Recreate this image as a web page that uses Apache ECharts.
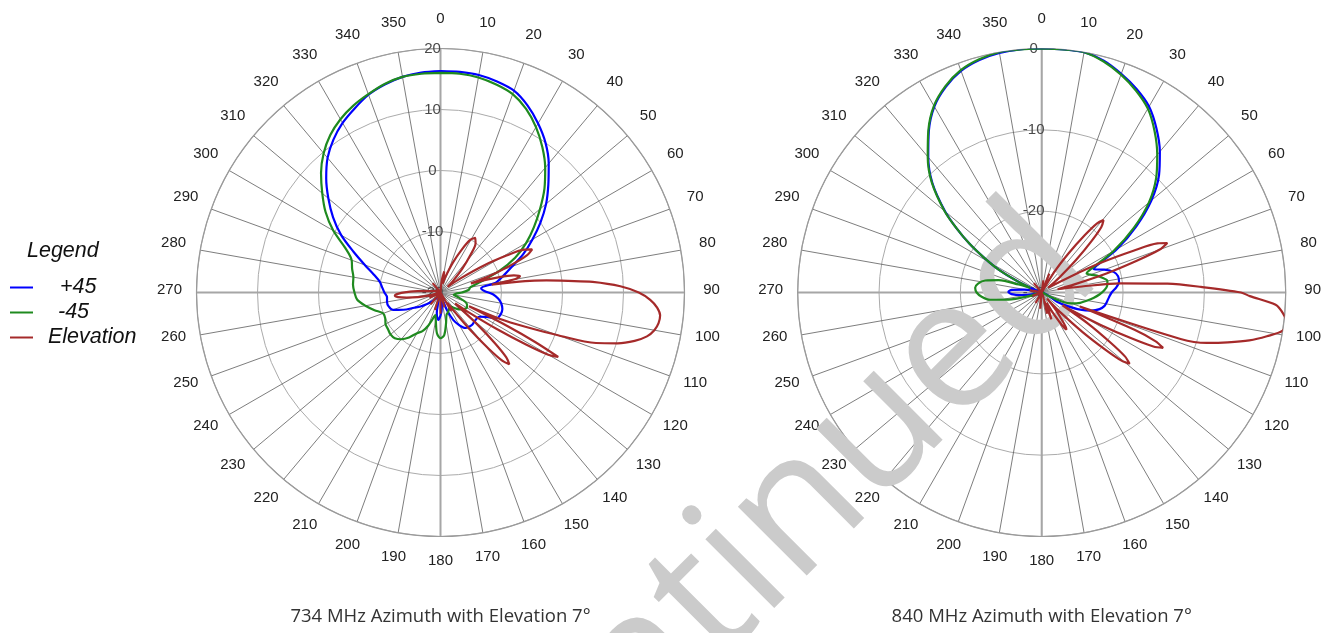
<!DOCTYPE html>
<html><head><meta charset="utf-8">
<script src="https://cdn.jsdelivr.net/npm/echarts@6/dist/echarts.min.js"></script>
<style>html,body{margin:0;padding:0;background:#fff}#c{width:1339px;height:633px}</style>
</head><body><div id="c"></div>
<script>
// ---- text ----
const leftTitle = '734 MHz Azimuth with Elevation 7°';
const rightTitle = '840 MHz Azimuth with Elevation 7°';
const legendTitle = 'Legend';
const seriesNames = ['+45', '-45', 'Elevation'];
const seriesColors = ['#0000ff', '#1f8a1f', '#a52a2a'];
const watermarkText = 'Discontinued';

// ---- scales ----
const leftRadius = { min: -20, max: 20, step: 10 };
const rightRadius = { min: -30, max: 0, step: 10 };
const angleScale = { min: 0, max: 360, step: 10 };

// ---- 734 MHz: [angle deg, dB] ----
const az734Plus45 = [
  [0,16.3],[5,16.3],[10,16.2],[15,15.8],[20,15.2],[25,13.8],[30,12.0],[35,10.0],[40,7.6],[45,5.0],
  [50,2.6],[55,0.0],[60,-2.6],[65,-5.0],[70,-7.5],[75,-9.3],[80,-10.8],[84,-13.3],[88,-12.8],[92,-11.4],
  [96,-10.5],[100,-9.9],[105,-9.5],[110,-9.5],[115,-9.9],[118,-11.5],[122,-12.5],[130,-12.7],[135,-12.6],[140,-12.7],
  [145,-12.9],[150,-13.8],[155,-15.0],[160,-17.0],[165,-18.8],[170,-19.2],[175,-17.5],[180,-16.2],[185,-15.5],[190,-16.5],
  [195,-18.8],[200,-19.5],[210,-19.3],[220,-18.5],[225,-17.8],[230,-17.0],[235,-16.0],[240,-15.0],[245,-13.3],[250,-11.7],
  [255,-11.2],[260,-11.1],[265,-11.2],[270,-10.8],[275,-10.4],[280,-9.9],[285,-8.7],[290,-6.8],[295,-4.3],[300,-1.2],
  [305,1.5],[310,4.0],[315,6.5],[320,8.8],[325,10.6],[330,12.1],[335,13.3],[340,14.5],[345,15.3],[350,15.9],[355,16.2]
];
const az734Minus45 = [
  [0,16.0],[5,16.0],[10,15.8],[15,15.3],[20,14.6],[25,13.2],[30,11.3],[35,9.1],[40,6.7],[45,4.1],
  [50,1.3],[55,-1.3],[60,-3.8],[65,-6.5],[70,-9.8],[75,-13.2],[80,-15.0],[85,-15.4],[90,-16.5],[95,-17.5],
  [100,-17.8],[105,-17.0],[110,-15.8],[115,-15.2],[120,-15.0],[125,-15.3],[130,-15.7],[135,-16.2],[140,-16.8],[145,-17.2],
  [150,-17.2],[155,-16.8],[160,-16.5],[165,-16.2],[170,-14.8],[175,-13.0],[180,-12.5],[185,-13.3],[190,-15.5],[193,-16.2],
  [197,-15.3],[200,-14.3],[205,-13.0],[210,-12.3],[215,-11.0],[220,-10.0],[225,-9.4],[230,-9.3],[235,-9.5],[240,-9.6],
  [245,-10.0],[250,-10.0],[255,-8.8],[260,-7.5],[265,-6.3],[270,-5.9],[275,-5.6],[280,-5.5],[285,-5.0],[290,-4.5],
  [295,-2.8],[300,0.3],[305,3.0],[310,5.3],[315,7.7],[320,9.8],[325,11.5],[330,12.8],[335,13.8],[340,14.6],
  [345,15.4],[350,15.9],[355,16.0]
];
const az734Elevation = [
  [0,-20],[6,-18],[10,-16.5],[14,-18.5],[17.5,-17.3],[22.5,-14.7],[26.5,-12.05],[29.5,-10.1],[32.5,-9.4],[35.5,-10.1],
  [38.5,-12.05],[42.5,-14.7],[47.5,-17.3],[51,-18.5],[54.8,-15.9],[58,-11.7],[60.8,-7.6],[62.8,-4.6],[64.8,-3.4],[66.8,-4.6],
  [68.8,-7.6],[71.6,-11.7],[73.3,-14.8],[75.4,-10.0],[76.9,-7.65],[78.4,-6.7],[79.9,-7.65],[81.2,-11.5],[82.3,-6],[83.5,-2.5],
  [84.8,1.0],[86,5.0],[88,9.5],[90,12.5],[92,14.4],[94,15.6],[96,16.2],[98,16.1],[100,15.6],[102,14.6],
  [104,12.8],[106,10.2],[108,6.8],[110,0.5],[112,-5],[114,-9.3],[115.9,-14.8],[116.7,-7.5],[117.6,-2.5],[118.7,2.0],
  [120.0,0.4],[121.3,-3.5],[123.0,-9.0],[125.2,-14.5],[127,-17],[128.7,-15.9],[131,-11.85],[133,-7.8],[134.6,-4.85],[136.2,-3.7],
  [137.8,-4.85],[139.4,-7.8],[141.4,-11.85],[143.7,-15.9],[147,-18],[150,-16.5],[154,-20],[165,-17.5],[172,-20],[180,-16.5],
  [188,-20],[198,-17],[205,-20],[220,-17.5],[230,-20],[245,-18],[252,-20],[255.5,-18.1],[258.5,-16.25],[261.5,-14.4],
  [263.8,-13.0],[266,-12.5],[268.2,-13.0],[270.5,-14.4],[273.5,-16.25],[276.5,-18.1],[285,-19],[300,-20],[320,-18],[340,-20]
];

// ---- 840 MHz: [angle deg, dB] ----
const az840Plus45 = [
  [0,0],[5,0],[10,0],[15,-0.5],[20,-1.4],[25,-2.4],[30,-3.6],[35,-5.4],[40,-7.4],[45,-9.6],
  [50,-12.4],[55,-15.8],[60,-19.3],[64,-22.5],[66,-23.0],[70,-21.8],[74,-20.8],[78,-20.4],[82,-20.4],[86,-20.8],
  [90,-21.4],[94,-21.7],[98,-21.9],[102,-22.1],[106,-22.6],[110,-23.5],[114,-24.8],[118,-26.5],[121,-27.8],[125,-30],
  [255,-30],[259,-29],[263,-27.5],[267,-26.3],[271,-25.9],[275,-26.3],[279,-27.8],[283,-29.5],[287,-30],[291,-29],
  [295,-26.6],[298,-24],[301,-21.8],[304,-19.3],[307,-16.9],[310,-14.5],[315,-11.0],[320,-8.3],[325,-5.8],[330,-3.6],
  [335,-2.1],[340,-1.0],[345,-0.4],[350,-0.1],[355,0]
];
const az840Minus45 = [
  [0,0],[5,0],[10,0],[15,-0.6],[20,-1.5],[25,-2.6],[30,-3.9],[35,-5.8],[40,-7.9],[45,-10.1],
  [50,-12.8],[55,-16.2],[60,-19.8],[64,-23.0],[67,-24.0],[70,-23.6],[73,-22.9],[76,-22.4],[80,-21.8],[84,-21.9],
  [88,-22.3],[92,-22.9],[96,-23.6],[100,-24.3],[105,-25.1],[110,-26.1],[114,-27.2],[118,-29],[122,-30],[250,-30],
  [254,-28.5],[258,-25.8],[262,-23.6],[266,-22.6],[270,-22.0],[274,-21.8],[278,-22.1],[282,-22.9],[286,-24.5],[289,-27],
  [292,-28.5],[295,-26.7],[298,-24],[301,-21.8],[304,-19.3],[307,-16.9],[310,-14.4],[315,-10.9],[320,-8.2],[325,-5.7],
  [330,-3.5],[335,-2.0],[340,-0.9],[345,-0.3],[350,0],[355,0]
];
const az840Elevation = [
  [0,-30],[8,-28.5],[15,-30],[22,-27.5],[28,-30],[31.5,-27.1],[34.5,-24.15],[36.9,-21.2],[38.7,-19.1],[40.5,-18.3],
  [42.3,-19.1],[44.1,-21.2],[46.5,-24.15],[49.5,-27.1],[53,-29],[61,-25.85],[63.4,-21.7],[65.5,-17.6],[67,-14.55],[68.5,-13.4],
  [70,-14.55],[71.5,-17.6],[73.6,-21.7],[76,-25.85],[78.5,-28],[81.5,-25],[83.3,-20.3],[86,-14.5],[88,-10.4],[90,-5.5],
  [91,-4.4],[93,-1.2],[95,-0.2],[97,0.3],[99,0],[101,-1.8],[103,-3.8],[105,-6.3],[107,-8.8],[108.5,-12],
  [110.2,-25],[111.9,-17.7],[113.2,-14.75],[114.5,-13.6],[115.8,-14.75],[117.1,-17.7],[118.8,-21.8],[121,-25.9],[121.5,-27],[123.9,-23.05],
  [126,-19.6],[127.5,-17.1],[129,-16.1],[130.5,-17.1],[132,-19.6],[134.1,-23.05],[136.5,-26.5],[139,-29],[141,-27.25],[143.5,-25.9],
  [145,-24.9],[146.3,-24.5],[147.6,-24.9],[149,-25.9],[151.5,-27.25],[155,-28.6],[160,-26.5],[163,-29],[166,-27.3],[170,-30],
  [185,-28],[195,-30],[210,-28.5],[225,-30],[250,-28.8],[265,-30],[280,-28.5],[295,-30],[320,-28.5],[340,-30]
];

// ---- layout (styling, not data) ----
const CX = [440.5, 1041.7], CY = 292.5, R = 244;
const LABEL_SHIFT = 2.5;      // tick labels sit slightly above the ring centre
const TICK_FONT = 'Liberation Sans';

function closed(pairs) {
  const d = pairs.map(p => [p[1], p[0]]);
  d.push([pairs[0][1], 360]);
  return d;
}
function angleAxisGrid(pi) {
  return {
    polarIndex: pi, type: 'value', min: angleScale.min, max: angleScale.max, interval: angleScale.step,
    startAngle: 90, clockwise: true,
    axisLine: { show: true, lineStyle: { color: '#9a9a9a', width: 1.2 } },
    axisTick: { show: false }, axisLabel: { show: false },
    splitLine: { show: true, lineStyle: { color: '#5c5c5c', width: 0.8 } }
  };
}
function angleAxisCross(pi) {
  return {
    polarIndex: pi, type: 'value', min: angleScale.min, max: angleScale.max, interval: 90, startAngle: 90, clockwise: true,
    axisLine: { show: false }, axisTick: { show: false }, axisLabel: { show: false },
    splitLine: { show: true, lineStyle: { color: '#a6a6a6', width: 2 } }
  };
}
function angleAxisLabels(pi) {
  return {
    polarIndex: pi, type: 'value', min: angleScale.min, max: angleScale.max, interval: angleScale.step,
    startAngle: 90, clockwise: true,
    axisLine: { show: false }, axisTick: { show: false }, splitLine: { show: false },
    axisLabel: { margin: 26.5,
      formatter: v => (v >= 360 ? '' : '{a|' + v + '}'),
      rich: { a: { width: 1, height: 1, lineHeight: 1, align: 'center', verticalAlign: 'middle',
        fontSize: 15, color: '#222', fontFamily: TICK_FONT } } }
  };
}
function radiusAxisMain(pi, sc) {
  return {
    polarIndex: pi, type: 'value', min: sc.min, max: sc.max, interval: sc.step,
    axisLine: { show: false }, axisTick: { show: false },
    axisLabel: { margin: 8, align: 'center', verticalAlign: 'middle', fontSize: 15, color: '#4a4a4a',
      fontFamily: TICK_FONT, showMinLabel: true, showMaxLabel: true },
    splitLine: { show: true, lineStyle: { color: '#ababab', width: 1 } }
  };
}
function radiusAxisHidden(pi, sc) {
  return { polarIndex: pi, type: 'value', min: sc.min, max: sc.max, show: false,
    axisLine: { show: false }, axisLabel: { show: false }, splitLine: { show: false }, axisTick: { show: false } };
}
function lineSeries(name, color, pi, pairs, z) {
  return { type: 'line', name, coordinateSystem: 'polar', polarIndex: pi, data: closed(pairs),
    showSymbol: false, symbol: 'none', smooth: 0.3, z, clip: false,
    lineStyle: { width: 2.2, color }, itemStyle: { color } };
}

const chart = echarts.init(document.getElementById('c'));
chart.setOption({
  animation: false,
  backgroundColor: '#ffffff',
  polar: [
    { center: [CX[0], CY], radius: R },
    { center: [CX[1], CY], radius: R },
    { center: [CX[0], CY], radius: R },
    { center: [CX[1], CY], radius: R },
    { center: [CX[0], CY - LABEL_SHIFT], radius: R },
    { center: [CX[1], CY - LABEL_SHIFT], radius: R }
  ],
  angleAxis: [angleAxisGrid(0), angleAxisGrid(1), angleAxisCross(2), angleAxisCross(3),
              angleAxisLabels(4), angleAxisLabels(5)],
  radiusAxis: [radiusAxisMain(0, leftRadius), radiusAxisMain(1, rightRadius),
               radiusAxisHidden(2, leftRadius), radiusAxisHidden(3, rightRadius),
               radiusAxisHidden(4, leftRadius), radiusAxisHidden(5, rightRadius)],
  legend: {
    orient: 'vertical', left: 5, top: 271.5, itemWidth: 23, itemHeight: 2, itemGap: 3, icon: 'rect',
    selectedMode: false,
    textStyle: { fontSize: 21.5, fontStyle: 'italic', color: '#111', fontFamily: TICK_FONT, lineHeight: 22 },
    data: [
      { name: seriesNames[0], textStyle: { padding: [0, 0, 0, 22] } },
      { name: seriesNames[1], textStyle: { padding: [0, 0, 0, 20] } },
      { name: seriesNames[2], textStyle: { padding: [0, 0, 0, 10] } }
    ]
  },
  graphic: [
    { type: 'text', x: CX[0], y: 617, style: { text: leftTitle, font: '18.5px "Open Sans"', fill: '#333', align: 'center', verticalAlign: 'middle' } },
    { type: 'text', x: CX[1], y: 617, style: { text: rightTitle, font: '18.5px "Open Sans"', fill: '#333', align: 'center', verticalAlign: 'middle' } },
    { type: 'text', x: 27, y: 251, style: { text: legendTitle, font: 'italic 21.5px "Liberation Sans"', fill: '#111', align: 'left', verticalAlign: 'middle' } },
    { type: 'text', x: 1068, y: 241, rotation: 45 * Math.PI / 180, z: 1, silent: true,
      style: { text: watermarkText, font: '182px "Open Sans"', fill: '#cbcbcb', align: 'right', verticalAlign: 'middle' } }
  ],
  series: [
    lineSeries(seriesNames[0], seriesColors[0], 0, az734Plus45, 3),
    lineSeries(seriesNames[1], seriesColors[1], 0, az734Minus45, 4),
    lineSeries(seriesNames[2], seriesColors[2], 0, az734Elevation, 5),
    lineSeries(seriesNames[0], seriesColors[0], 1, az840Plus45, 3),
    lineSeries(seriesNames[1], seriesColors[1], 1, az840Minus45, 4),
    lineSeries(seriesNames[2], seriesColors[2], 1, az840Elevation, 5)
  ]
});
</script></body></html>
